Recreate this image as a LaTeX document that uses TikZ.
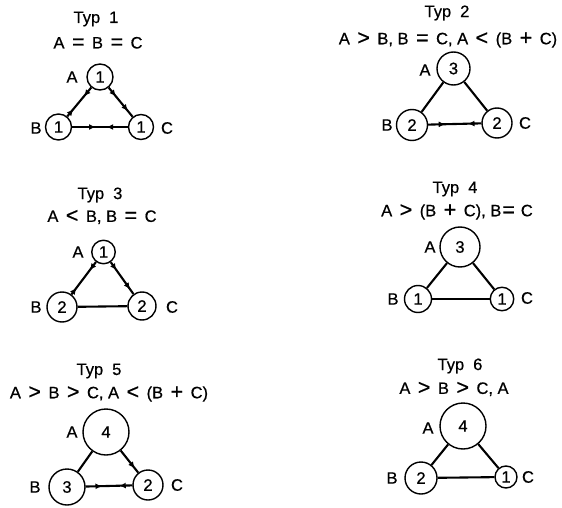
\documentclass[tikz,border=0pt]{standalone}
\usepackage{fontspec}
\setmainfont{Liberation Sans}[FakeBold=0.6]
\usetikzlibrary{arrows.meta,decorations.markings}
\newcommand\op[1]{\hspace{7.5pt}\raisebox{-0.6pt}{\scalebox{1.3}{#1}}\hspace{7.5pt}}
\newcommand\tg{\hspace{9pt}}
\tikzset{
  txt/.style={inner sep=0pt, font=\fontsize{16.5}{18}\selectfont},
  circ/.style={circle, draw, line width=1.4pt, inner sep=0pt, minimum size=#1, font=\fontsize{16.5}{18}\selectfont},
  edge/.style={line width=2.1pt},
  tipfwd/.style={postaction={decorate,decoration={markings,mark=at position #1 with {\arrow{Latex[length=6.5pt,width=6pt]}}}}},
  tipback/.style={postaction={decorate,decoration={markings,mark=at position #1 with {\arrowreversed{Latex[length=6.5pt,width=6pt]}}}}},
}
\begin{document}
\begin{tikzpicture}[x=1pt,y=-1pt]
\useasboundingbox[fill=white] (0,0) rectangle (562,508);

% ---------- Typ 1 ----------
\node[txt] (t1t) at (96,19) {Typ\tg 1};
\node[txt] (t1f) at (98,43) {A\op{=}B\op{=}C};
\node[circ=26pt] (t1A) at (100,77) {1};
\node[circ=26pt] (t1B) at (58.5,127) {1};
\node[circ=25pt] (t1C) at (141,127) {1};
\node[txt] (t1a) at (72,77) {A};
\node[txt] (t1b) at (36,128) {B};
\node[txt] (t1c) at (167,128) {C};
\draw[edge,tipfwd=0.3,tipback=0.75] (t1A) -- (t1B);
\draw[edge,tipfwd=0.3,tipfwd=0.8] (t1A) -- (t1C);
\draw[edge,tipfwd=0.42,tipback=0.62] (t1B) -- (t1C);

% ---------- Typ 2 ----------
\node[txt] (t2t) at (447,13) {Typ\tg 2};
\node[txt] (t2f) at (448,40) {A\op{>}B, B\op{=}C, A\op{<}(B\op{+}C)};
\node[circ=33pt] (t2A) at (453.5,68.5) {3};
\node[circ=31pt] (t2B) at (412,125) {2};
\node[circ=30pt] (t2C) at (497,123) {2};
\node[txt] (t2a) at (425,70) {A};
\node[txt] (t2b) at (387,125) {B};
\node[txt] (t2c) at (525,123) {C};
\draw[edge] (t2A) -- (t2B);
\draw[edge] (t2A) -- (t2C);
\draw[edge,tipfwd=0.32,tipback=0.75] (t2B) -- (t2C);

% ---------- Typ 3 ----------
\node[txt] (t3t) at (100,195) {Typ\tg 3};
\node[txt] (t3f) at (102,217) {A\op{<}B, B\op{=}C};
\node[circ=23.5pt] (t3A) at (103.5,252) {1};
\node[circ=30pt] (t3B) at (62,307) {2};
\node[circ=28pt] (t3C) at (142,306) {2};
\node[txt] (t3a) at (78,252) {A};
\node[txt] (t3b) at (36,307) {B};
\node[txt] (t3c) at (172,307) {C};
\draw[edge,tipfwd=0.25,tipback=0.8] (t3A) -- (t3B);
\draw[edge,tipfwd=0.25,tipfwd=0.85] (t3A) -- (t3C);
\draw[edge] (t3B) -- (t3C);

% ---------- Typ 4 ----------
\node[txt] (t4t) at (455,189) {Typ\tg 4};
\node[txt] (t4f) at (457,212) {A\op{>}(B\op{+}C), B\hspace{1pt}\raisebox{-0.6pt}{\scalebox{1.3}{=}}\hspace{6pt}C};
\node[circ=40pt] (t4A) at (460,247) {3};
\node[circ=27pt] (t4B) at (418,299) {1};
\node[circ=23.5pt] (t4C) at (502,299) {1};
\node[txt] (t4a) at (430,247) {A};
\node[txt] (t4b) at (393,299) {B};
\node[txt] (t4c) at (527,298) {C};
\draw[edge] (t4A) -- (t4B);
\draw[edge] (t4A) -- (t4C);
\draw[edge] (t4B) -- (t4C);

% ---------- Typ 5 ----------
\node[txt] (t5t) at (99,371) {Typ\tg 5};
\node[txt] (t5f) at (109,394) {A\op{>}B\op{>}C, A\op{<}(B\op{+}C)};
\node[circ=46pt] (t5A) at (106,432) {4};
\node[circ=36pt] (t5B) at (67,487) {3};
\node[circ=30pt] (t5C) at (148,485) {2};
\node[txt] (t5a) at (72,432) {A};
\node[txt] (t5b) at (35,487) {B};
\node[txt] (t5c) at (177,485) {C};
\draw[edge] (t5A) -- (t5B);
\draw[edge,tipfwd=0.8] (t5A) -- (t5C);
\draw[edge,tipfwd=0.35,tipback=0.72] (t5B) -- (t5C);

% ---------- Typ 6 ----------
\node[txt] (t6t) at (460,366) {Typ\tg 6};
\node[txt] (t6f) at (454,389) {A\op{>}B\op{>}C, A};
\node[circ=46pt] (t6A) at (463,426) {4};
\node[circ=32pt] (t6B) at (421,478) {2};
\node[circ=22pt] (t6C) at (506,477) {1};
\node[txt] (t6a) at (428,428) {A};
\node[txt] (t6b) at (392,478) {B};
\node[txt] (t6c) at (528,477) {C};
\draw[edge] (t6A) -- (t6B);
\draw[edge] (t6A) -- (t6C);
\draw[edge] (t6B) -- (t6C);
\end{tikzpicture}
\end{document}
